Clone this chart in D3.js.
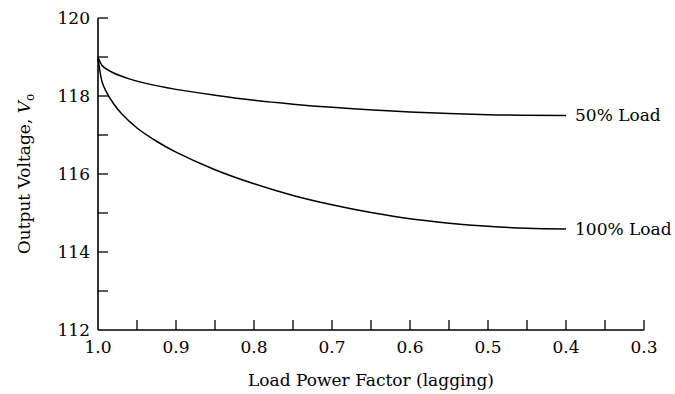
<!DOCTYPE html>
<html><head><meta charset="utf-8">
<script src="https://cdn.jsdelivr.net/npm/d3@7"></script>
<style>body{margin:0;background:#fff}</style>
</head><body>
<svg id="chart" width="675" height="394"></svg>
<script>
const pf50 = [1.0, 0.995, 0.99, 0.98, 0.96, 0.94, 0.9, 0.85, 0.8, 0.75, 0.7, 0.6, 0.5, 0.4];
const v50  = [119.0, 118.79, 118.7, 118.59, 118.44, 118.33, 118.17, 118.02, 117.89, 117.79, 117.71, 117.59, 117.52, 117.5];
const pf100 = [1.0, 0.995, 0.99, 0.98, 0.97, 0.95, 0.925, 0.9, 0.85, 0.8, 0.75, 0.7, 0.65, 0.6, 0.55, 0.5, 0.45, 0.4];
const v100  = [119.0, 118.38, 118.13, 117.8, 117.55, 117.18, 116.84, 116.56, 116.11, 115.75, 115.45, 115.21, 115.01, 114.85, 114.74, 114.66, 114.61, 114.59];
const seriesLabels = ["50% Load", "100% Load"];
const xMajorTicks = [1.0, 0.9, 0.8, 0.7, 0.6, 0.5, 0.4, 0.3];
const xMinorTicks = [0.95, 0.85, 0.75, 0.65, 0.55, 0.45, 0.35];
const yMajorTicks = [112, 114, 116, 118, 120];
const yMinorTicks = [113, 115, 117, 119];

const svg = d3.select("#chart");
const font = "'DejaVu Serif', 'Liberation Serif', serif";
const fs = 17;
const x = d3.scaleLinear().domain([1.0, 0.3]).range([98, 644]);
const y = d3.scaleLinear().domain([112, 120]).range([330, 18]);

const g = svg.append("g");
g.append("line").attr("x1", x(1.0)).attr("x2", x(1.0)).attr("y1", y(120)).attr("y2", y(112))
  .attr("stroke", "#000").attr("stroke-width", 1.6);
g.append("line").attr("x1", x(1.0)).attr("x2", x(0.3)).attr("y1", y(112)).attr("y2", y(112))
  .attr("stroke", "#000").attr("stroke-width", 1.6);

const xt = xMajorTicks.concat(xMinorTicks).filter(d => d < 1.0);
g.selectAll(".xt").data(xt).enter().append("line")
  .attr("x1", d => x(d)).attr("x2", d => x(d)).attr("y1", y(112)).attr("y2", y(112) - 10)
  .attr("stroke", "#000").attr("stroke-width", 1.3);
const yt = yMajorTicks.concat(yMinorTicks).filter(d => d > 112);
g.selectAll(".yt").data(yt).enter().append("line")
  .attr("x1", x(1.0)).attr("x2", x(1.0) + 10).attr("y1", d => y(d)).attr("y2", d => y(d))
  .attr("stroke", "#000").attr("stroke-width", 1.3);

g.selectAll(".xl").data(xMajorTicks).enter().append("text")
  .attr("x", d => x(d)).attr("y", 353)
  .attr("text-anchor", "middle").attr("font-family", font).attr("font-size", fs)
  .text(d => d.toFixed(1));
g.selectAll(".yl").data(yMajorTicks).enter().append("text")
  .attr("x", 90).attr("y", d => y(d)).attr("dy", "0.35em")
  .attr("text-anchor", "end").attr("font-family", font).attr("font-size", fs)
  .text(d => d);

g.append("text").attr("x", 371).attr("y", 386).attr("text-anchor", "middle")
  .attr("font-family", font).attr("font-size", fs).text("Load Power Factor (lagging)");
const yt2 = g.append("text").attr("transform", "translate(30,174) rotate(-90)")
  .attr("text-anchor", "middle").attr("font-family", font).attr("font-size", fs);
yt2.append("tspan").text("Output Voltage, ");
yt2.append("tspan").attr("font-style", "italic").text("V");
yt2.append("tspan").attr("font-size", 12).attr("dy", 4).text("o");

const line = d3.line().x(d => x(d[0])).y(d => y(d[1])).curve(d3.curveCatmullRom.alpha(0.5));
const s50 = pf50.map((p, i) => [p, v50[i]]);
const s100 = pf100.map((p, i) => [p, v100[i]]);
[s50, s100].forEach(s => {
  g.append("path").attr("d", line(s)).attr("fill", "none").attr("stroke", "#000").attr("stroke-width", 1.5);
});
[[s50, seriesLabels[0]], [s100, seriesLabels[1]]].forEach(([s, t]) => {
  const last = s[s.length - 1];
  g.append("text").attr("x", x(last[0]) + 9).attr("y", y(last[1])).attr("dy", "0.35em")
    .attr("font-family", font).attr("font-size", fs).text(t);
});
</script>
</body></html>
